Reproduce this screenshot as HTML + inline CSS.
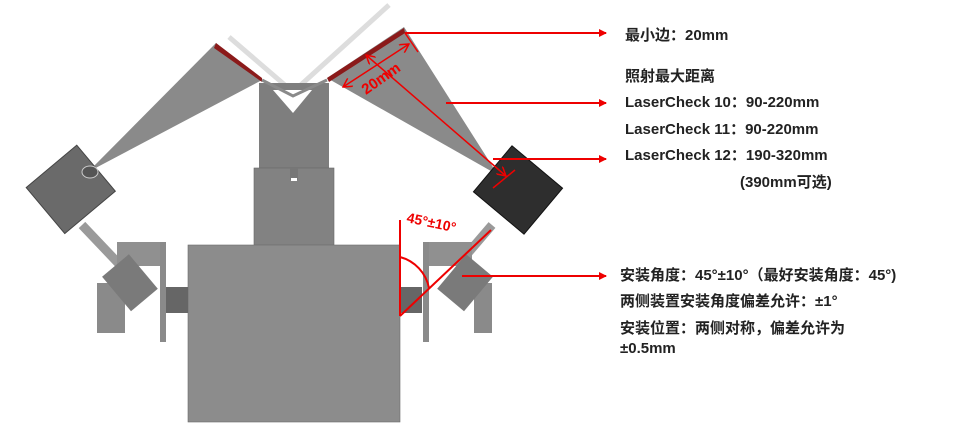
<!DOCTYPE html>
<html><head><meta charset="utf-8"><style>
html,body{margin:0;padding:0;background:#fff;}
svg{display:block}
.t{font-family:"Liberation Sans","Noto Sans CJK SC",sans-serif;font-weight:bold;font-size:15px;fill:#222;}
</style></head><body>
<svg width="975" height="433" viewBox="0 0 975 433" xmlns="http://www.w3.org/2000/svg">
<defs>
<marker id="ah" markerWidth="8" markerHeight="8" refX="7" refY="4" orient="auto" markerUnits="userSpaceOnUse"><path d="M0,0 L8,4 L0,8 z" fill="#e00"/></marker>
<marker id="ah2" markerWidth="10" markerHeight="10" refX="9" refY="5" orient="auto-start-reverse" markerUnits="userSpaceOnUse"><path d="M0,0 L9,5 L0,10" fill="none" stroke="#e00" stroke-width="1.5"/></marker>
</defs>
<polyline points="229,37 293,92 389,5" fill="none" stroke="#ddd" stroke-width="5"/>
<rect x="259" y="83" width="70" height="86" fill="#7e7e7e"/>
<polygon points="273,90 293,113 312,90" fill="#fff"/>
<rect x="254" y="168" width="80" height="78" fill="#828282" stroke="#666" stroke-width="0.6"/>
<rect x="290" y="168" width="8" height="12" fill="#777"/><rect x="291" y="178" width="6" height="3" fill="#fff"/>
<polygon points="88,172 216,43 262,80" fill="#8a8a8a"/>
<polygon points="498,175 404,27 327,78" fill="#8a8a8a"/>
<polygon points="216,43 262,78 262,82 214,48" fill="#8b1a1a"/>
<polygon points="327,78 404,28 405,33 329,82" fill="#8b1a1a"/>
<polyline points="262,80 293,96 327,80" fill="none" stroke="#8a8a8a" stroke-width="3"/>
<rect x="188" y="245" width="212" height="177" fill="#8c8c8c" stroke="#6a6a6a" stroke-width="0.6"/>
<g transform="rotate(-40 70 190)"><rect x="38" y="160" width="66" height="60" fill="#6a6a6a" stroke="#444"/></g>
<ellipse cx="90" cy="172" rx="8" ry="6" fill="#555" stroke="#ccc"/>
<line x1="82" y1="225" x2="120" y2="265" stroke="#9a9a9a" stroke-width="9"/>
<rect x="117" y="242" width="48" height="24" fill="#909090"/>
<rect x="97" y="283" width="28" height="50" fill="#8a8a8a"/>
<rect x="112" y="260" width="35" height="45" fill="#7a7a7a" transform="rotate(-40 130 282)"/>
<rect x="160" y="242" width="6" height="100" fill="#8a8a8a"/>
<rect x="166" y="287" width="22" height="26" fill="#666"/>
<g transform="rotate(40 518 190)"><rect x="485" y="160" width="66" height="60" fill="#2e2e2e" stroke="#111"/></g>
<line x1="492" y1="225" x2="462" y2="260" stroke="#9a9a9a" stroke-width="9"/>
<rect x="424" y="242" width="48" height="24" fill="#909090"/>
<rect x="474" y="283" width="18" height="50" fill="#8a8a8a"/>
<rect x="448" y="260" width="35" height="45" fill="#7a7a7a" transform="rotate(40 465 282)"/>
<rect x="423" y="242" width="6" height="100" fill="#8a8a8a"/>
<rect x="400" y="287" width="22" height="26" fill="#666"/>
<g stroke="#e00" stroke-width="2" fill="none">
<line x1="405" y1="33" x2="606" y2="33" marker-end="url(#ah)"/>
<line x1="446" y1="103" x2="606" y2="103" marker-end="url(#ah)"/>
<line x1="493" y1="159" x2="606" y2="159" marker-end="url(#ah)"/>
<line x1="462" y1="276" x2="606" y2="276" marker-end="url(#ah)"/>
<line x1="343" y1="87" x2="409" y2="44" marker-start="url(#ah2)" marker-end="url(#ah2)" stroke-width="1.5"/>
<line x1="366" y1="55" x2="506" y2="176" marker-start="url(#ah2)" marker-end="url(#ah2)" stroke-width="1.5"/>
<line x1="405" y1="33" x2="418" y2="52" stroke-width="1.5"/>
<line x1="493" y1="188" x2="515" y2="170" stroke-width="1.5"/>
<line x1="400" y1="220" x2="400" y2="316"/>
<line x1="400" y1="316" x2="491" y2="230"/>
<path d="M400,257 A40,40 0 0 1 429,288" stroke-width="2"/>
</g>
<text transform="translate(366,95) rotate(-35)" font-family="Liberation Sans,sans-serif" font-weight="bold" font-size="15" fill="#e00">20mm</text>
<text transform="translate(406,222) rotate(12)" font-family="Liberation Sans,sans-serif" font-weight="bold" font-size="14" fill="#e00">45°±10°</text>
<text class="t" x="625" y="40">最小边：20mm</text>
<text class="t" x="625" y="81">照射最大距离</text>
<text class="t" x="625" y="107">LaserCheck 10：90-220mm</text>
<text class="t" x="625" y="134">LaserCheck 11：90-220mm</text>
<text class="t" x="625" y="160">LaserCheck 12：190-320mm</text>
<text class="t" x="740" y="187">(390mm可选)</text>
<text class="t" x="620" y="280">安装角度：45°±10°（最好安装角度：45°)</text>
<text class="t" x="620" y="306">两侧装置安装角度偏差允许：±1°</text>
<text class="t" x="620" y="333">安装位置：两侧对称，偏差允许为</text>
<text class="t" x="620" y="353">±0.5mm</text>
</svg>
</body></html>
